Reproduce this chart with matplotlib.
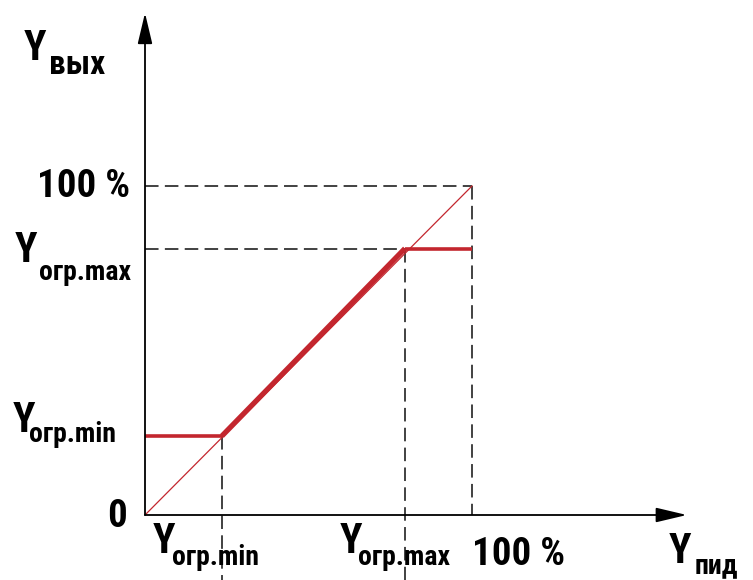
import matplotlib
matplotlib.use("Agg")
import matplotlib.pyplot as plt
from matplotlib import font_manager

# ---- data (percent) ----
x_knots = [0, 23.5, 79.5, 100]      # input Y_пид breakpoints
y_out = [24, 24, 81, 81]            # output Y_вых (limited)
full_scale = 100
x_tick_labels = ["огр.min", "огр.max"]
y_tick_labels = ["огр.min", "огр.max"]

ents = font_manager.fontManager.ttflist
names = {f.name for f in ents}
cands = ["Liberation Sans Narrow", "Roboto Condensed", "Open Sans Condensed"]
fam = [n for n in cands if n in names] + ["Liberation Sans", "DejaVu Sans"]
stretch = "condensed"

W, H = 753, 580
fig = plt.figure(figsize=(W / 100, H / 100), dpi=100)
ax = fig.add_axes([0, 0, 1, 1])
ox, oy = 145, 515
sx, sy = 3.27, 3.29
ax.set_xlim(-ox / sx, (W - ox) / sx)
ax.set_ylim(-(H - oy) / sy, oy / sy)
ax.axis("off")

red = "#c3262e"
dash = (0, (7.5, 3.5))
dcol = "#333333"

# axes with arrows
ax.annotate("", xy=(0, 152.6), xytext=(0, 0),
            arrowprops=dict(arrowstyle="-|>,head_length=1.9,head_width=0.45",
                            lw=1.3, color="black", shrinkA=0, shrinkB=0))
ax.annotate("", xy=(165.7, 0), xytext=(0, 0),
            arrowprops=dict(arrowstyle="-|>,head_length=1.9,head_width=0.45",
                            lw=1.3, color="black", shrinkA=0, shrinkB=0))

xmin, xmax = x_knots[1], x_knots[2]
ymin, ymax = y_out[1], y_out[2]
bottom = -(H - oy) / sy

# dashed guide lines
ax.plot([0, full_scale], [full_scale, full_scale], ls=dash, color=dcol, lw=1.3)
ax.plot([full_scale, full_scale], [full_scale, 0], ls=dash, color=dcol, lw=1.3)
ax.plot([0, xmax], [ymax, ymax], ls=dash, color=dcol, lw=1.3)
ax.plot([xmax, xmax], [ymax, bottom], ls=dash, color=dcol, lw=1.3)
ax.plot([xmin, xmin], [ymin, bottom], ls=dash, color=dcol, lw=1.3)

# thin ideal line
ax.plot([0, full_scale], [0, full_scale], color=red, lw=0.9)
# limited characteristic
ax.plot(x_knots[:2], y_out[:2], color=red, lw=2.6, solid_capstyle="butt")
ax.plot(x_knots[1:3], y_out[1:3], color=red, lw=3.8, solid_capstyle="butt")
ax.plot(x_knots[2:], y_out[2:], color=red, lw=2.6, solid_capstyle="butt")

bigY = dict(fontsize=30, fontweight="bold", family=fam, fontstretch=stretch,
            color="black", va="baseline", ha="left")
sub = dict(fontsize=20, fontweight="bold", family=fam, fontstretch=stretch,
           color="black", va="baseline", ha="left")
num = dict(fontsize=28, fontweight="bold", family=fam, fontstretch=stretch,
           color="black", va="baseline")

# axis titles
ax.text(-37, 138.3, "Y", **bigY)
ax.text(-29.5, 134.0, "вых", **{**sub, "fontsize": 24})
ax.text(160, -14.6, "Y", **bigY)
ax.text(168, -17.8, "пид", **sub)

# y labels
ax.text(-4.5, full_scale - 3.3, "100 %", ha="right", **num)
ax.text(-5.5, -3.6, "0", ha="right", **num)
ax.text(-40, ymax - 4.0, "Y", **bigY)
ax.text(-32.5, ymax - 9.6, y_tick_labels[1], **sub)
ax.text(-40.5, ymin + 1.2, "Y", **bigY)
ax.text(-35.5, ymin - 1.8, y_tick_labels[0], **sub)

# x labels
ax.text(full_scale, -15.2, "100 %", ha="left", **num)
ax.text(xmin - 21, -11.6, "Y", **bigY)
ax.text(xmin - 15.2, -15.2, x_tick_labels[0], **sub)
ax.text(xmax - 20, -11.6, "Y", **bigY)
ax.text(xmax - 14.4, -15.2, x_tick_labels[1], **sub)

fig.savefig("out.png", dpi=100)
